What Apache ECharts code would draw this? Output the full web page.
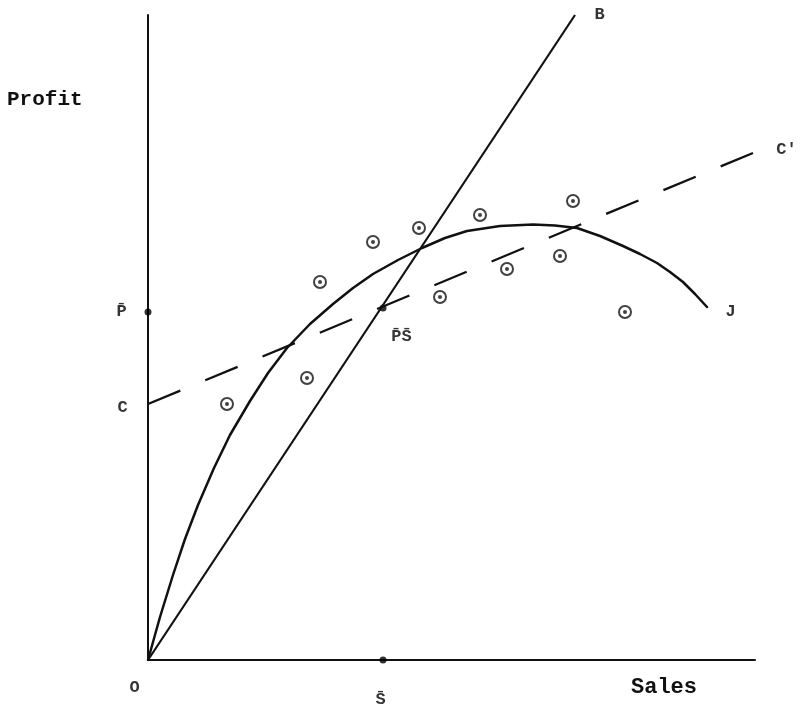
<!DOCTYPE html>
<html><head><meta charset="utf-8">
<script src="https://cdn.jsdelivr.net/npm/echarts@6/dist/echarts.min.js"></script>
<style>html,body{margin:0;padding:0;background:#fff}#c{width:803px;height:710px}</style>
</head><body><div id="c"></div>
<script>
// Data (units: sales on x, profit on y)
var curveJ = [[0,0],[1.2,4.3],[2.5,8.5],[3.7,12.1],[5.0,15.5],[6.6,19.2],[8.2,22.5],[10.2,25.9],[12.0,28.7],[13.9,31.2],[16.2,33.6],[18.5,35.6],[20.5,37.2],[22.5,38.6],[25.0,40.0],[27.4,41.2],[29.7,42.2],[31.9,42.9],[35.2,43.4],[38.5,43.55],[40.7,43.45],[42.9,43.2],[45.2,42.4],[47.5,41.4],[49.2,40.6],[50.9,39.7],[52.2,38.8],[53.5,37.8],[54.7,36.6],[55.9,35.3]];
var lineB = [[0,0],[42.7,64.5]];
var lineC = [[0,25.6],[60.5,50.7]];
var observations = [[7.9,25.6],[15.9,28.2],[17.2,37.8],[22.5,41.8],[27.1,43.2],[33.2,44.5],[42.5,45.9],[29.2,36.3],[35.9,39.1],[41.2,40.4],[47.7,34.8]];
var meanPoints = [[0,34.8],[23.5,0],[23.5,35.2]];
var pointLabels = ['O','P\u0304','S\u0304','P\u0304S\u0304','C','C\'','B','J'];
var axisNames = ['Profit','Sales'];
var xMax = 60.7, yMax = 64.5;

function lbl(text, off){
  return {show:true, formatter:text, position:off, align:'center', verticalAlign:'middle',
    color:'#000', fontFamily:'"Liberation Mono", "DejaVu Sans Mono", monospace', fontWeight:'bold', fontSize:17,
    textBorderWidth:0};
}
var anchorData = [
  {value:[0,0], label:lbl(pointLabels[0],[-13,28])},
  {value:meanPoints[0], label:lbl(pointLabels[1],[-26,0])},
  {value:meanPoints[1], label:lbl(pointLabels[2],[-2,40])},
  {value:meanPoints[2], label:lbl(pointLabels[3],[19,29])},
  {value:lineC[0], label:lbl(pointLabels[4],[-25,4])},
  {value:lineC[1], label:lbl(pointLabels[5],[34,-3])},
  {value:lineB[1], label:lbl(pointLabels[6],[25,0])},
  {value:curveJ[curveJ.length-1], label:lbl(pointLabels[7],[24,5])}
];

var chart = echarts.init(document.getElementById('c'), null, {renderer:'canvas'});
var axisCommon = {
  type:'value', min:0, splitLine:{show:false}, axisTick:{show:false}, axisLabel:{show:false},
  axisLine:{show:true, lineStyle:{color:'#111', width:2}}
};
chart.setOption({
  animation:false,
  backgroundColor:'#fff',
  grid:{left:148, right:48, top:15, bottom:50},
  xAxis:Object.assign({}, axisCommon, {max:xMax}),
  yAxis:Object.assign({}, axisCommon, {max:yMax}),
  graphic:[
    {type:'text', left:7, top:89, style:{text:axisNames[0], fill:'#111', font:'bold 21px "Liberation Mono", monospace'}},
    {type:'text', left:631, top:676, style:{text:axisNames[1], fill:'#111', font:'bold 22px "Liberation Mono", monospace'}}
  ],
  series:[
    {type:'line', data:lineB, showSymbol:false, lineStyle:{color:'#111', width:2.2}, silent:true},
    {type:'line', data:lineC, showSymbol:false, lineStyle:{color:'#111', width:2.3, type:[35,27]}, silent:true},
    {type:'line', data:curveJ, smooth:false, showSymbol:false, lineStyle:{color:'#111', width:2.5, join:'round', cap:'round'}, silent:true},
    {type:'scatter', data:observations, symbol:'circle', symbolSize:12, itemStyle:{color:'rgba(0,0,0,0)', borderColor:'#111', borderWidth:2}, silent:true},
    {type:'scatter', data:observations, symbol:'circle', symbolSize:4, itemStyle:{color:'#111'}, silent:true},
    {type:'scatter', data:meanPoints, symbol:'circle', symbolSize:7, itemStyle:{color:'#000'}, silent:true},
    {type:'scatter', data:anchorData, symbol:'circle', symbolSize:1, itemStyle:{color:'rgba(255,255,255,0)'}, silent:true, z:10}
  ]
});
</script></body></html>
